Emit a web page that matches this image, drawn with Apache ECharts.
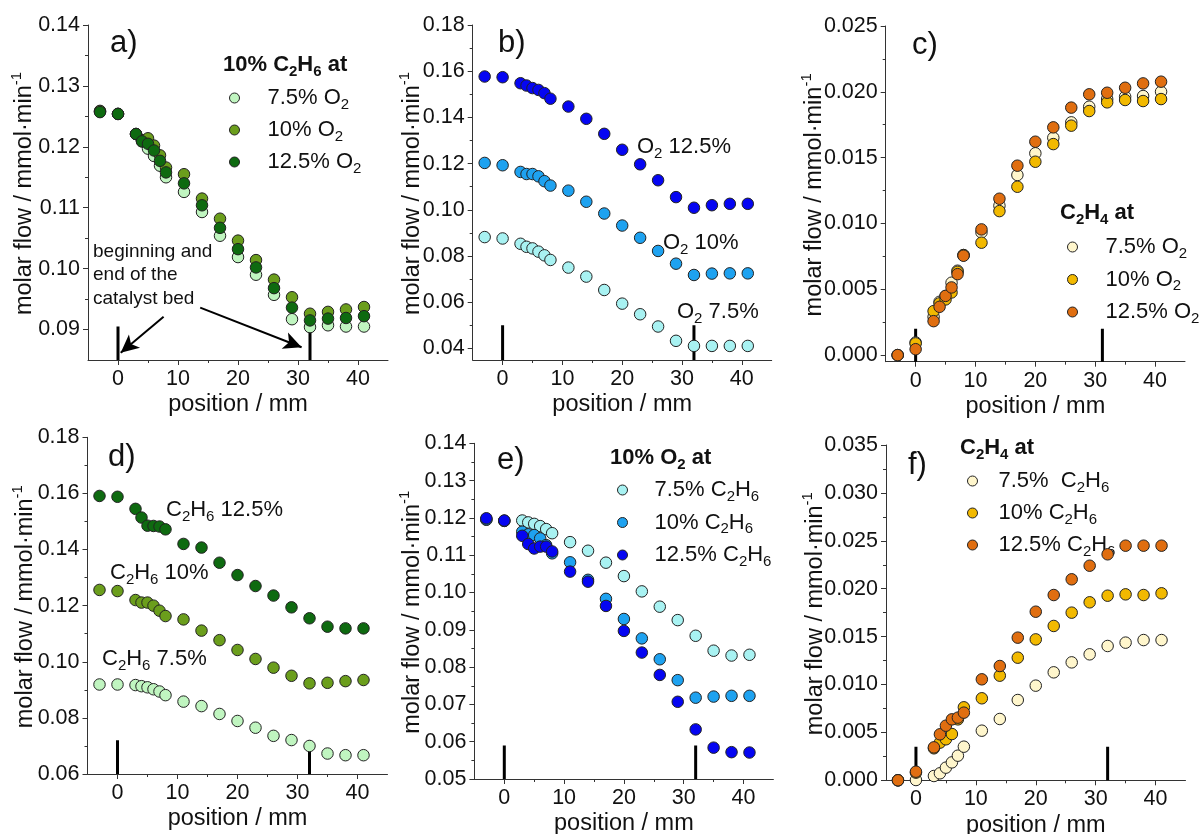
<!DOCTYPE html>
<html>
<head>
<meta charset="utf-8">
<script src="https://cdn.jsdelivr.net/npm/echarts@6/dist/echarts.min.js"></script>
<style>html,body{margin:0;padding:0;background:#fff;}#c{width:1201px;height:834px;}</style>
</head>
<body>
<div id="c"></div>
<script>
// ---------- data ----------
const POS = [-3,0,3,4,5,6,7,8,11,14,17,20,23,26,29,32,35,38,41];

// a) C2H6 flow, 10% C2H6 at 7.5 / 10 / 12.5 % O2
const A_O2_75  = [0.1258,0.1254,0.1221,0.1209,0.1197,0.1185,0.1169,0.1150,0.1126,0.1093,0.1054,0.1019,0.0990,0.0957,0.0917,0.0904,0.0907,0.0905,0.0905];
const A_O2_10  = [0.1259,0.1254,0.1221,0.1211,0.1214,0.1202,0.1186,0.1166,0.1155,0.1115,0.1082,0.1046,0.1014,0.0982,0.0953,0.0926,0.0929,0.0933,0.0937];
const A_O2_125 = [0.1257,0.1254,0.1221,0.1209,0.1205,0.1194,0.1177,0.1158,0.1140,0.1104,0.1067,0.1032,0.1002,0.0968,0.0936,0.0915,0.0918,0.0919,0.0922];
// b) O2 flow
const B_O2_75  = [0.0882,0.0876,0.0853,0.0840,0.0833,0.0819,0.0803,0.0783,0.0750,0.0711,0.0653,0.0594,0.0548,0.0495,0.0433,0.0411,0.0411,0.0411,0.0411];
const B_O2_10  = [0.1203,0.1193,0.1164,0.1155,0.1155,0.1145,0.1124,0.1105,0.1083,0.1035,0.0984,0.0932,0.0879,0.0822,0.0767,0.0718,0.0724,0.0725,0.0725];
const B_O2_125 = [0.1577,0.1574,0.1548,0.1538,0.1527,0.1519,0.1505,0.1481,0.1447,0.1394,0.1329,0.1260,0.1197,0.1128,0.1055,0.1009,0.1020,0.1026,0.1026];
// c) C2H4 flow at O2 levels
const C_O2_75  = [0.0000,0.00096,0.0029,0.00405,0.00448,0.0055,0.00641,0.0076,0.00932,0.01135,0.01368,0.01533,0.01651,0.01768,0.01887,0.01945,0.01963,0.01968,0.02001];
const C_O2_10  = [0.0000,0.00089,0.00334,0.00393,0.00423,0.00476,0.00633,0.0076,0.00854,0.01094,0.01279,0.01469,0.01603,0.01743,0.01854,0.0192,0.01938,0.0193,0.01945];
const C_O2_125 = [0.0000,0.00045,0.00258,0.00367,0.0045,0.00514,0.00615,0.00755,0.00955,0.01188,0.01439,0.01621,0.0173,0.0188,0.01981,0.01993,0.02031,0.02064,0.02077];
// d) C2H6 flow at C2H6 levels
const D_C2_75  = [0.0919,0.0919,0.0917,0.0913,0.0909,0.0902,0.0894,0.0881,0.0858,0.0842,0.0814,0.0789,0.0765,0.0736,0.0721,0.0700,0.0673,0.0667,0.0667];
const D_C2_10  = [0.1256,0.1252,0.1220,0.1211,0.1211,0.1200,0.1182,0.1163,0.1151,0.1111,0.1077,0.1042,0.1010,0.0979,0.0950,0.0923,0.0925,0.0931,0.0935];
const D_C2_125 = [0.1591,0.1588,0.1545,0.1514,0.1485,0.1484,0.1482,0.1472,0.1420,0.1407,0.1353,0.1309,0.1270,0.1236,0.1194,0.1155,0.1125,0.1119,0.1119];
// e) O2 flow, 10% O2 at C2H6 levels
const E_C2_75  = [0.1195,0.1192,0.1193,0.1188,0.1184,0.1178,0.1170,0.1159,0.1135,0.1112,0.1080,0.1044,0.1003,0.0962,0.0926,0.0884,0.0844,0.0831,0.0833];
const E_C2_10  = [0.1196,0.1192,0.1163,0.1156,0.1154,0.1145,0.1127,0.1105,0.1081,0.1034,0.0983,0.0929,0.0877,0.0821,0.0765,0.0718,0.0721,0.0723,0.0723];
const E_C2_125 = [0.1199,0.1193,0.1152,0.1130,0.1118,0.1123,0.1123,0.1110,0.1056,0.1029,0.0964,0.0897,0.0839,0.0779,0.0707,0.0633,0.0584,0.0572,0.0571];
// f) C2H4 flow at C2H6 levels
const F_C2_75  = [0.0000,0.00003,0.00045,0.00073,0.00132,0.00187,0.00257,0.00351,0.00518,0.0064,0.00838,0.00988,0.01127,0.01231,0.01315,0.01402,0.01437,0.01464,0.01464];
const F_C2_10  = [0.0000,0.0008,0.00334,0.00393,0.00428,0.00483,0.00636,0.00762,0.00856,0.01092,0.0128,0.01471,0.01611,0.0175,0.01858,0.01927,0.01941,0.01934,0.01952];
const F_C2_125 = [0.0000,0.0009,0.00344,0.0048,0.0057,0.00636,0.00654,0.00706,0.01054,0.01193,0.01489,0.0176,0.01934,0.02098,0.0224,0.02359,0.02449,0.02449,0.02449];

// axis ranges and ticks
const X_RANGE = [-5, 45];
const X_TICKS = [0,10,20,30,40];
const X_MINOR = [5,15,25,35];
const A_Y = [0.085,0.14], A_YT = [0.09,0.10,0.11,0.12,0.13,0.14], A_YM = [0.095,0.105,0.115,0.125,0.135];
const B_Y = [0.035,0.18], B_YT = [0.04,0.06,0.08,0.10,0.12,0.14,0.16,0.18], B_YM = [0.05,0.07,0.09,0.11,0.13,0.15,0.17];
const C_Y = [-0.0005,0.025], C_YT = [0,0.005,0.010,0.015,0.020,0.025], C_YM = [0.0025,0.0075,0.0125,0.0175,0.0225];
const D_Y = [0.06,0.18], D_YT = [0.06,0.08,0.10,0.12,0.14,0.16,0.18], D_YM = [0.07,0.09,0.11,0.13,0.15,0.17];
const E_Y = [0.05,0.14], E_YT = [0.05,0.06,0.07,0.08,0.09,0.10,0.11,0.12,0.13,0.14], E_YM = [0.055,0.065,0.075,0.085,0.095,0.105,0.115,0.125,0.135];
const F_Y = [0,0.035], F_YT = [0,0.005,0.010,0.015,0.020,0.025,0.030,0.035], F_YM = [0.0025,0.0075,0.0125,0.0175,0.0225,0.0275,0.0325];

// catalyst bed markers: positions and marker tops
const BED_A = [0,32], BED_B = [0,32], BED_C = [0,31.2], BED_D = [0,32], BED_E = [0,32], BED_F = [0,32];
const BED_TOP = [0.0905, 0.05, 0.002, 0.072, 0.059, 0.0035];
// arrows of panel a (data coordinates: from -> to)
const ARROWS_A = [[[7.6,0.0921],[0.45,0.0862]], [[13.7,0.0936],[30.6,0.0871]]];

// texts
const LEG_O2 = ['7.5% O_2','10% O_2','12.5% O_2'];
const LEG_E  = ['7.5% C_2H_6','10% C_2H_6','12.5% C_2H_6'];
const LEG_F  = ['7.5%  C_2H_6','10% C_2H_6','12.5% C_2H_6'];
const Y_NAME = '{n|molar flow / mmol·min}{sup|-1}';

// ---------- style ----------
const FONT = "'Liberation Sans', Arial, Helvetica, sans-serif";
const TXT = '#111';
const AX = '#333';
const GREENS = ['#c0f5c0','#6b9e1c','#0e6a10'];
const BLUES  = ['#a8f2f2','#1ea2f0','#0505f2'];
const ORANGES= ['#fff6cc','#f2b900','#e06e10'];

function toRich(s){
  return ('{n|' + s.replace(/_(\d)/g, '}{sub|$1}{n|') + '}').replace(/\{n\|\}/g,'');
}
function rich(size, weight){
  weight = weight || 'normal';
  return {
    n:{fontSize:size,fontFamily:FONT,color:TXT,fontWeight:weight,lineHeight:28},
    sub:{fontSize:Math.round(size*0.66),fontFamily:FONT,color:TXT,fontWeight:weight,verticalAlign:'bottom'}
  };
}

const PANELS = [
  {id:'a', grid:{left:88,top:25,width:300,height:335}, y:A_Y, yt:A_YT, ym:A_YM, dec:2, nx:25,
   data:[A_O2_75,A_O2_10,A_O2_125], colors:GREENS, bed:BED_A, legend:LEG_O2,
   leg:{left:229,top:87,itemWidth:56,itemGap:7}},
  {id:'b', grid:{left:472.7,top:25,width:299,height:335}, y:B_Y, yt:B_YT, ym:B_YM, dec:2, nx:413,
   data:[B_O2_75,B_O2_10,B_O2_125], colors:BLUES, bed:BED_B},
  {id:'c', grid:{left:885.7,top:26,width:299.3,height:335.7}, y:C_Y, yt:C_YT, ym:C_YM, dec:3, nx:815,
   data:[C_O2_75,C_O2_10,C_O2_125], colors:ORANGES, bed:BED_C, legend:LEG_O2,
   leg:{left:1067,top:236,itemWidth:56,itemGap:7.5}},
  {id:'d', grid:{left:87.5,top:437.3,width:300,height:336.7}, y:D_Y, yt:D_YT, ym:D_YM, dec:2, nx:26,
   data:[D_C2_75,D_C2_10,D_C2_125], colors:GREENS, bed:BED_D},
  {id:'e', grid:{left:474.4,top:443.3,width:299,height:335.7}, y:E_Y, yt:E_YT, ym:E_YM, dec:2, nx:413,
   data:[E_C2_75,E_C2_10,E_C2_125], colors:BLUES, bed:BED_E, legend:LEG_E,
   leg:{left:617,top:479,itemWidth:54,itemGap:7.5}},
  {id:'f', grid:{left:886,top:445,width:299.5,height:335.3}, y:F_Y, yt:F_YT, ym:F_YM, dec:3, nx:816,
   data:[F_C2_75,F_C2_10,F_C2_125], colors:ORANGES, bed:BED_F, legend:LEG_F,
   leg:{left:967,top:470,itemWidth:42,itemGap:7}}
];

const grid=[], xAxis=[], yAxis=[], series=[], legend=[], title=[], graphic=[];
const LEGMAP = {};

PANELS.forEach((p,i)=>{
  grid.push(Object.assign({outerBoundsMode:'none', containLabel:false}, p.grid));
  xAxis.push({gridIndex:i,type:'value',min:X_RANGE[0],max:X_RANGE[1],position:'bottom',
    axisLine:{onZero:false,lineStyle:{color:AX,width:1}},
    axisTick:{customValues:X_TICKS,length:5,inside:false,lineStyle:{color:AX}},
    axisLabel:{customValues:X_TICKS,fontSize:21.5,fontFamily:FONT,color:TXT,margin:8},
    splitLine:{show:false},
    name:'position / mm',nameLocation:'middle',nameGap:33,
    nameTextStyle:{fontSize:23.5,fontFamily:FONT,color:TXT}});
  xAxis.push({gridIndex:i,type:'value',min:X_RANGE[0],max:X_RANGE[1],position:'bottom',
    axisLine:{show:false,onZero:false},
    axisTick:{customValues:X_MINOR,length:3,inside:false,lineStyle:{color:AX}},
    axisLabel:{show:false},splitLine:{show:false}});
  yAxis.push({gridIndex:i,type:'value',min:p.y[0],max:p.y[1],position:'left',
    axisLine:{onZero:false,lineStyle:{color:AX,width:1}},
    axisTick:{customValues:p.yt,length:5,inside:false,lineStyle:{color:AX}},
    axisLabel:{customValues:p.yt,fontSize:21.5,fontFamily:FONT,color:TXT,margin:8,
      formatter:(v)=>Number(v).toFixed(p.dec)},
    splitLine:{show:false}});
  yAxis.push({gridIndex:i,type:'value',min:p.y[0],max:p.y[1],position:'left',
    axisLine:{show:false,onZero:false},
    axisTick:{customValues:p.ym,length:3,inside:false,lineStyle:{color:AX}},
    axisLabel:{show:false},splitLine:{show:false}});

  // rotated y-axis title
  graphic.push({type:'text',x:p.nx,y:p.grid.top+p.grid.height/2+1,rotation:Math.PI/2,silent:true,
    style:{text:Y_NAME,align:'center',verticalAlign:'middle',
      rich:{n:{fontSize:23.5,fontFamily:FONT,fill:TXT,color:TXT,lineHeight:32},
            sup:{fontSize:15,fontFamily:FONT,fill:TXT,color:TXT,verticalAlign:'top'}}}});

  // catalyst bed markers
  p.bed.forEach((bx,k)=>{
    const s = {type:'line',xAxisIndex:2*i,yAxisIndex:2*i,silent:true,symbol:'none',z:3,
      data:[[bx,p.y[0]],[bx,BED_TOP[i]]],lineStyle:{color:'#000',width:3},animation:false};
    if(p.id==='a' && k===0){
      s.markLine = {silent:true,symbol:['none','arrow'],symbolSize:[13,18],animation:false,
        lineStyle:{color:'#000',width:2,type:'solid'},label:{show:false},
        data:ARROWS_A.map(a=>[{coord:a[0]},{coord:a[1]}])};
    }
    series.push(s);
  });
  // scatter series
  p.data.forEach((vals,k)=>{
    const name = p.id + (k+1);
    if(p.legend) LEGMAP[name] = toRich(p.legend[k]);
    series.push({type:'scatter',name:name,xAxisIndex:2*i,yAxisIndex:2*i,silent:true,z:5,
      symbol:'circle',symbolSize:11.5,animation:false,
      itemStyle:{color:p.colors[k],borderColor:'#222',borderWidth:1,opacity:1},
      data:POS.map((x,j)=>[x,vals[j]])});
  });
  if(p.legend){
    legend.push(Object.assign({orient:'vertical',itemHeight:10,icon:'circle',padding:0,
      selectedMode:false,data:[p.id+'1',p.id+'2',p.id+'3'],
      formatter:(n)=>LEGMAP[n],
      itemStyle:{borderColor:'#222',borderWidth:1},
      textStyle:{rich:rich(22)}}, p.leg));
  }
});

// panel letters
[['a)',110,28],['b)',498,28],['c)',912,30],['d)',108,442],['e)',497,445],['f)',908,450]].forEach(t=>{
  title.push({text:t[0],left:t[1],top:t[2],padding:0,
    textStyle:{fontSize:31,fontFamily:FONT,color:TXT,fontWeight:'normal'}});
});
// legend headers and curve labels
const TEXTS = [
  ['10% C_2H_6 at',223,51,true],
  ['C_2H_4 at',1060,199,true],
  ['10% O_2 at',610,444,true],
  ['C_2H_4 at',960,434,true],
  ['O_2 12.5%',637,133,false],
  ['O_2 10%',663,229,false],
  ['O_2 7.5%',677,298,false],
  ['C_2H_6 12.5%',166,496,false],
  ['C_2H_6 10%',110,559,false],
  ['C_2H_6 7.5%',102,645,false]
];
TEXTS.forEach(t=>{
  title.push({text:toRich(t[0]),left:t[1],top:t[2],padding:0,
    textStyle:{rich:t[3]?rich(22,'bold'):rich(22)}});
});
title.push({text:'beginning and\nend of the\ncatalyst bed',left:93,top:240,padding:0,
  textStyle:{fontSize:19,lineHeight:23.5,fontFamily:FONT,color:TXT,fontWeight:'normal'}});

const chart = echarts.init(document.getElementById('c'),null,{renderer:'canvas'});
chart.setOption({animation:false,backgroundColor:'#fff',grid,xAxis,yAxis,series,legend,title,graphic});
</script>
</body>
</html>
